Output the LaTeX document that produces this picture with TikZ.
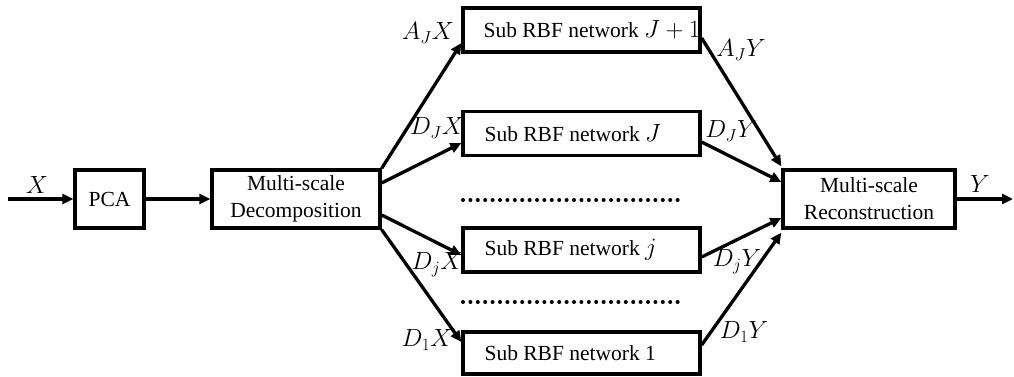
\documentclass[tikz,border=0pt]{standalone}
\usepackage{fontspec}
\setmainfont{Liberation Serif}
\usetikzlibrary{arrows.meta}
\newcommand{\mth}[1]{{\fontsize{23}{27}\selectfont$#1$}}
\begin{document}
\begin{tikzpicture}[x=1pt,y=-1pt,
  every node/.style={font=\fontsize{21.5}{27}\selectfont},
  blk/.style={draw, line width=3.3pt, inner sep=0pt},
  sub/.style={blk, minimum width=237pt, minimum height=44pt},
  conn/.style={line width=3.3pt, -{Triangle[length=11pt,width=10pt]}},
  lbl/.style={inner sep=0pt},
  dots/.style={line width=4pt, line cap=round, dash pattern=on 0pt off 7.4pt}]
\useasboundingbox (0,0) rectangle (1014,376);
% main chain
\coordinate (in) at (8,199);
\node[blk, minimum width=69pt, minimum height=58pt] (pca) at (109.5,199) {PCA};
\node[blk, minimum width=168pt, minimum height=58pt, align=center] (msd) at (296,199) {Multi-scale\\Decomposition};
\node[blk, minimum width=172pt, minimum height=58pt, align=center] (msr) at (869,199) {Multi-scale\\Reconstruction};
\coordinate (out) at (1013,199);
% sub networks
\node[sub] (s1) at (581.5,30) {};
\node[sub] (s2) at (581.5,133.5) {};
\node[sub] (s3) at (581.5,250) {};
\node[sub, minimum height=42pt] (s4) at (581.5,353) {};
\node[lbl, anchor=west] (t1) at ([xshift=22pt]s1.west) {Sub RBF network \mth{J+1}};
\node[lbl, anchor=west] (t2) at ([xshift=23pt]s2.west) {Sub RBF network \mth{J}};
\node[lbl, anchor=west] (t3) at ([xshift=23pt]s3.west) {Sub RBF network \mth{j}};
\node[lbl, anchor=west] (t4) at ([xshift=23pt]s4.west) {Sub RBF network 1};
% dotted separators
\coordinate (d1a) at (463,200); \coordinate (d1b) at (684,200);
\coordinate (d2a) at (463,302); \coordinate (d2b) at (684,302);
\draw[dots] (d1a) -- (d1b);
\draw[dots] (d2a) -- (d2b);
% connectors
\draw[conn] (in) -- (pca.west);
\draw[conn] (pca.east) -- (msd.west);
\draw[conn] (msr.east) -- (out);
\draw[conn] (msd.north east) -- ([yshift=-13pt]s1.west);
\draw[conn] ([yshift=16pt]msd.east) -- ([yshift=-9.5pt]s2.west);
\draw[conn] ([yshift=-16pt]msd.east) -- ([yshift=-5pt]s3.west);
\draw[conn] (msd.south east) -- ([yshift=11pt]s4.west);
\draw[conn] ([yshift=-8pt]s1.east) -- ([yshift=2pt]msr.north west);
\draw[conn] ([yshift=-8.5pt]s2.east) -- ([yshift=17pt]msr.west);
\draw[conn] ([yshift=-7pt]s3.east) -- ([yshift=-19pt]msr.west);
\draw[conn] ([yshift=8pt]s4.east) -- ([yshift=-3pt]msr.south west);
% labels
\node[lbl] (lx) at (37,185) {\mth{X}};
\node[lbl] (ly) at (980,184) {\mth{Y}};
\node[lbl] (l1) at (428,33) {\mth{A_JX}};
\node[lbl] (l2) at (437,128) {\mth{D_JX}};
\node[lbl] (l3) at (437,265) {\mth{D_jX}};
\node[lbl] (l4) at (427,340) {\mth{D_1X}};
\node[lbl] (r1) at (741,50) {\mth{A_JY}};
\node[lbl] (r2) at (731,131) {\mth{D_JY}};
\node[lbl] (r3) at (737,262) {\mth{D_jY}};
\node[lbl] (r4) at (744,332) {\mth{D_1Y}};
\end{tikzpicture}
\end{document}
